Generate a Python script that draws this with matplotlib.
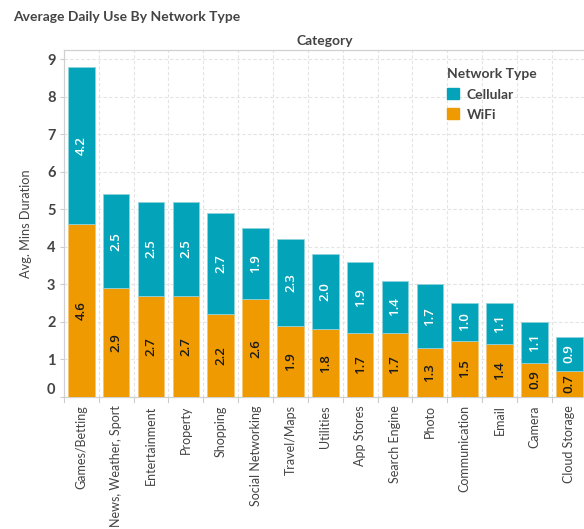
import matplotlib
matplotlib.use("Agg")
import matplotlib.pyplot as plt
from matplotlib.patches import Patch
import numpy as np

categories = ["Games/Betting", "News, Weather, Sport", "Entertainment", "Property",
              "Shopping", "Social Networking", "Travel/Maps", "Utilities", "App Stores",
              "Search Engine", "Photo", "Communication", "Email", "Camera", "Cloud Storage"]
wifi = [4.6, 2.9, 2.7, 2.7, 2.2, 2.6, 1.9, 1.8, 1.7, 1.7, 1.3, 1.5, 1.4, 0.9, 0.7]
cellular = [4.2, 2.5, 2.5, 2.5, 2.7, 1.9, 2.3, 2.0, 1.9, 1.4, 1.7, 1.0, 1.1, 1.1, 0.9]
y_ticks = [0, 1, 2, 3, 4, 5, 6, 7, 8, 9]

teal = "#03A4BA"
orange = "#EE9A00"
text_dark = "#444444"
grid_col = "#e4e4e4"

plt.rcParams["font.family"] = ["Lato", "DejaVu Sans"]

W, H = 584, 529
fig = plt.figure(figsize=(W / 100, H / 100), dpi=100)
left_px, right_px, top_px, bottom_px = 63.9, 586.7, 50, 397
ax = fig.add_axes([left_px / W, 1 - bottom_px / H,
                   (right_px - left_px) / W, (bottom_px - top_px) / H])

x = np.arange(len(categories))
bw = 0.76
ax.bar(x, wifi, width=bw, color=orange, edgecolor="#f5c477", linewidth=0.6, zorder=3)
ax.bar(x, cellular, width=bw, bottom=wifi, color=teal, edgecolor="#8fd3dc",
       linewidth=0.6, zorder=3)

for i, (w, c) in enumerate(zip(wifi, cellular)):
    ax.text(i, w / 2, f"{w:.1f}", rotation=90, ha="center", va="center",
            color="#1a1a1a", fontsize=9.5, family="Open Sans", fontweight="semibold",
            zorder=4)
    ax.text(i, w + c / 2, f"{c:.1f}", rotation=90, ha="center", va="center",
            color="white", fontsize=9.5, family="Open Sans", fontweight="semibold",
            zorder=4)

ax.set_xlim(-0.5, len(categories) - 0.5)
ax.set_ylim(0, 9.24)

# gridlines: dashed horizontals at integer values, dashed verticals between categories
for yv in y_ticks[1:]:
    ax.axhline(yv, color=grid_col, lw=0.8, ls=(0, (3, 2)), zorder=1)
for xv in np.arange(0.5, len(categories) - 0.5, 1):
    ax.axvline(xv, color=grid_col, lw=0.8, ls=(0, (3, 2)), zorder=1)

ax.set_yticks(y_ticks)
ax.set_yticklabels([str(v) for v in y_ticks], fontsize=10.5, fontweight="bold", color=text_dark)
ax.tick_params(axis="y", length=3, color="#cccccc", pad=3)
ax.get_yticklabels()[0].set_va("bottom")

ax.set_xticks(x)
ax.set_xticklabels(categories, rotation=90, fontsize=9, color=text_dark)
ax.tick_params(axis="x", length=0, pad=6)
for xv in np.arange(-0.5, len(categories), 1):
    ax.plot([xv, xv], [0, -0.12], color="#cccccc", lw=0.8, clip_on=False, zorder=1)

for side in ["left", "top", "bottom"]:
    ax.spines[side].set_color("#d0d0d0")
    ax.spines[side].set_linewidth(0.9)
ax.spines["right"].set_visible(False)

ax.set_ylabel("Avg. Mins Duration", fontsize=9.2, color=text_dark, labelpad=11)

fig.text(13 / W, 1 - 17 / H, "Average Daily Use By Network Type", fontsize=10,
         fontweight="bold", color=text_dark, ha="left", va="center")
fig.text((left_px + right_px) / 2 / W, 1 - 41 / H, "Category", fontsize=10,
         fontweight="bold", color=text_dark, ha="center", va="center")

handles = [Patch(facecolor=teal, edgecolor=teal), Patch(facecolor=orange, edgecolor=orange)]
leg = ax.legend(handles, ["Cellular", "WiFi"], title="Network Type",
                loc="upper left", bbox_to_anchor=((447 - left_px) / (right_px - left_px),
                                                  1 - (68 - top_px) / (bottom_px - top_px)),
                frameon=False, fontsize=10, title_fontsize=10,
                handlelength=0.85, handleheight=0.85, handletextpad=0.55,
                labelspacing=0.55, borderaxespad=0, borderpad=0)
leg.get_title().set_fontweight("bold")
leg.get_title().set_color(text_dark)
leg._legend_box.align = "left"
leg._legend_box.sep = 6
for t in leg.get_texts():
    t.set_fontweight("bold")
    t.set_color(text_dark)

fig.savefig("out.png", dpi=100)
